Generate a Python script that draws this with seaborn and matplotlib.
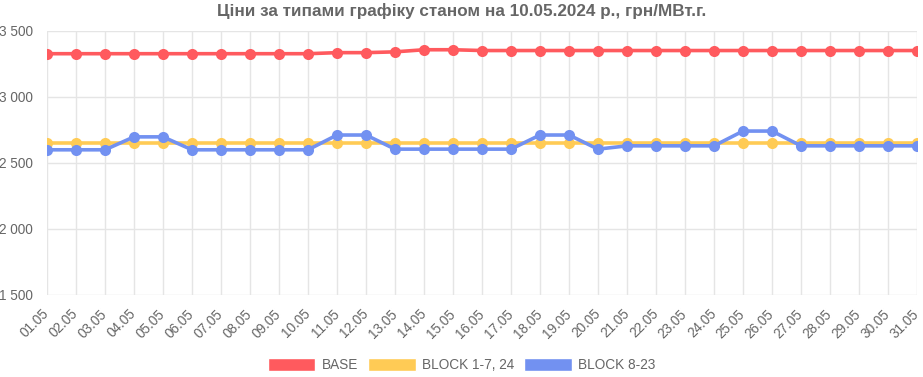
import numpy as np
import pandas as pd
import matplotlib
matplotlib.use("Agg")
import matplotlib.pyplot as plt
from matplotlib.patches import Patch
from matplotlib.ticker import FuncFormatter
import seaborn as sns

# data
days = [f"{d:02d}.05" for d in range(1, 32)]
base = [3328] * 10 + [3336, 3336, 3342, 3358, 3358] + [3352] * 16
block_1_7_24 = [2652] * 31
block_8_23 = ([2600, 2600, 2600, 2698, 2698, 2600, 2600, 2600, 2600, 2600,
               2712, 2712, 2605, 2605, 2605, 2605, 2605, 2712, 2712, 2605]
              + [2630] * 4 + [2742, 2742] + [2630] * 5)
series_names = ["BASE", "BLOCK 1-7, 24", "BLOCK 8-23"]
colors = ["#FF5A5E", "#FFCB55", "#7291F1"]

df = pd.DataFrame({
    "day": days * 3,
    "price": base + block_1_7_24 + block_8_23,
    "series": np.repeat(series_names, len(days)),
})

sns.set_theme(style="white")
plt.rcParams["font.family"] = ["Liberation Sans", "DejaVu Sans"]

fig = plt.figure(figsize=(9.23, 3.77), dpi=100)
W, H = 923, 377
ax = fig.add_axes([47 / W, 1 - 295 / H, (917 - 47) / W, (295 - 31) / H])

sns.lineplot(data=df, x="day", y="price", hue="series", palette=colors,
             marker="o", markersize=8, markeredgewidth=0, linewidth=2.6,
             ax=ax, legend=False, sort=False)

grid_c = "#e5e5e5"
text_c = "#666666"
ax.set_xlim(0, 30)
ax.set_ylim(1500, 3500)
ax.set_yticks([1500, 2000, 2500, 3000, 3500])
ax.yaxis.set_major_formatter(FuncFormatter(lambda v, p: f"{int(v):,}".replace(",", " ")))
ax.set_xticks(range(len(days)))
ax.set_xticklabels(days, rotation=45, ha="right", va="center", rotation_mode="anchor")
ax.grid(True, color=grid_c, linewidth=1)
ax.set_axisbelow(True)
for s in ax.spines.values():
    s.set_visible(False)
ax.tick_params(axis="both", length=7, width=1, color=grid_c, labelcolor=text_c,
               labelsize=9.8, pad=3)
ax.tick_params(axis="x", pad=5)
ax.set_xlabel("")
ax.set_ylabel("")

fig.text(0.5, 1 - 11 / H, "Ціни за типами графіку станом на 10.05.2024 р., грн/МВт.г.",
         ha="center", va="center", fontsize=12.3, fontweight="bold", color=text_c)

handles = [Patch(facecolor=c, edgecolor="white", label=n) for c, n in zip(colors, series_names)]
fig.legend(handles=handles, loc="center", bbox_to_anchor=(0.5, 1 - 365 / H), ncol=3,
           frameon=False, fontsize=9.8, handlelength=3.5, handleheight=1.1,
           handletextpad=0.45, columnspacing=0.75, labelcolor=text_c)

fig.savefig("out.png", dpi=100)
